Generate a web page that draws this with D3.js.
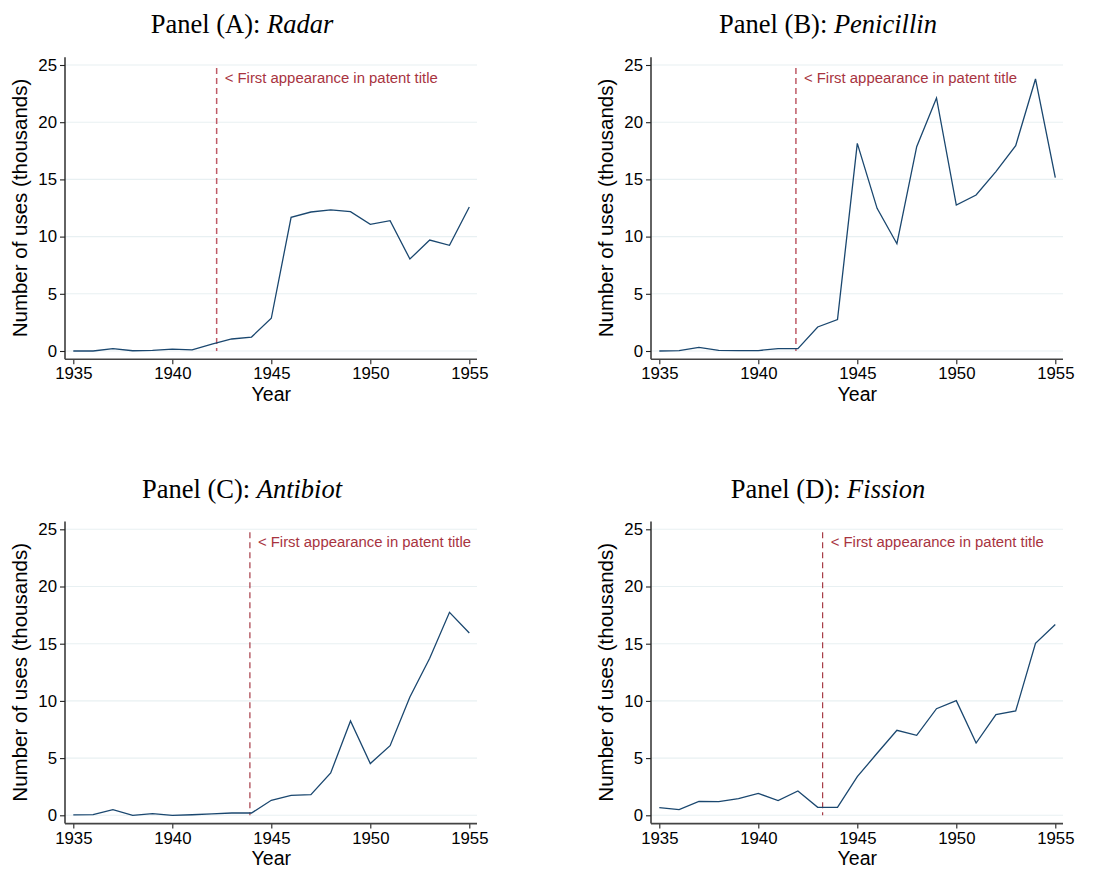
<!DOCTYPE html>
<html>
<head>
<meta charset="utf-8">
<script src="https://d3js.org/d3.v7.min.js"></script>
<style>
  body { margin: 0; background: #fff; }
  svg { display: block; }
</style>
</head>
<body>
<div id="chart"></div>
<script>
// data (thousands of uses per year)
const years = d3.range(1935, 1956);
const yTicks = [0, 5, 10, 15, 20, 25];
const xTicks = [1935, 1940, 1945, 1950, 1955];

const panelLetters = ["A", "B", "C", "D"];
const panelWords = ["Radar", "Penicillin", "Antibiot", "Fission"];
const firstAppearance = [1942.24, 1941.9, 1943.92, 1943.25];

const radar = [0, 0, 0.2, 0.02, 0.05, 0.17, 0.1, 0.6, 1.05, 1.22, 2.86,
  11.68, 12.15, 12.33, 12.18, 11.07, 11.39, 8.04, 9.7, 9.24, 12.59];
const penicillin = [0, 0.03, 0.32, 0.06, 0.04, 0.04, 0.2, 0.2, 2.1, 2.74, 18.15,
  12.47, 9.38, 17.86, 22.12, 12.76, 13.64, 15.68, 17.95, 23.78, 15.15];
const antibiot = [0.03, 0.06, 0.5, 0, 0.15, 0, 0.05, 0.12, 0.2, 0.2, 1.31,
  1.75, 1.8, 3.7, 8.25, 4.52, 6.09, 10.34, 13.72, 17.74, 15.94];
const fission = [0.67, 0.5, 1.22, 1.19, 1.46, 1.92, 1.28, 2.13, 0.7, 0.7, 3.38,
  5.42, 7.43, 6.99, 9.32, 10.02, 6.32, 8.8, 9.12, 15.03, 16.67];

const series = [radar, penicillin, antibiot, fission];

const width = 1110, height = 869;
const svg = d3.select("#chart").append("svg")
  .attr("width", width)
  .attr("height", height);

const offsets = [[0, 0], [586, 0], [0, 464.3], [586, 464.3]];
const vlineColor = ["#bf5a66", "#bf5a66", "#9e2a36", "#9e2a36"];
const vlineWidth = [1.5, 1.5, 1.1, 1.1];

const axisLeftX = 65, plotRight = 477, axisBottomY = 359.3, axisTopY = 57.3;

const x = d3.scaleLinear().domain([1935, 1955]).range([73.3, 469.3]);
const y = d3.scaleLinear().domain([0, 25]).range([351, 65]);

series.forEach((vals, i) => {
  const g = svg.append("g")
    .attr("transform", `translate(${offsets[i][0]},${offsets[i][1]})`);

  // title
  const title = g.append("text")
    .attr("x", 242)
    .attr("y", 33.3)
    .attr("text-anchor", "middle")
    .style("font-family", "'Liberation Serif', serif")
    .style("font-size", "26.5px")
    .attr("fill", "#000");
  title.append("tspan").text(`Panel (${panelLetters[i]}): `);
  title.append("tspan").style("font-style", "italic").text(panelWords[i]);

  // gridlines
  g.selectAll(".grid")
    .data(yTicks)
    .enter().append("line")
    .attr("x1", axisLeftX)
    .attr("x2", plotRight)
    .attr("y1", d => y(d))
    .attr("y2", d => y(d))
    .attr("stroke", "#e8f0f2")
    .attr("stroke-width", 1.1);

  // y axis
  const yAxis = g.append("g")
    .attr("transform", `translate(${axisLeftX},0)`)
    .call(d3.axisLeft(y).tickValues(yTicks).tickSize(5).tickPadding(3).tickSizeOuter(0));
  yAxis.select(".domain").remove();

  // x axis
  const xAxis = g.append("g")
    .attr("transform", `translate(0,${axisBottomY})`)
    .call(d3.axisBottom(x).tickValues(xTicks).tickFormat(d3.format("d"))
      .tickSize(5).tickPadding(3).tickSizeOuter(0));
  xAxis.select(".domain").remove();

  [yAxis, xAxis].forEach(a => {
    a.selectAll("text")
      .style("font-family", "'Liberation Sans', Arial, sans-serif")
      .style("font-size", "16.8px")
      .attr("fill", "#000");
    a.selectAll(".tick line").attr("stroke", "#222").attr("stroke-width", 1.1);
  });

  g.append("line")
    .attr("x1", axisLeftX).attr("x2", axisLeftX)
    .attr("y1", axisTopY).attr("y2", axisBottomY)
    .attr("stroke", "#222").attr("stroke-width", 1.4);
  g.append("line")
    .attr("x1", axisLeftX).attr("x2", plotRight)
    .attr("y1", axisBottomY).attr("y2", axisBottomY)
    .attr("stroke", "#444").attr("stroke-width", 1.6);

  // axis titles
  g.append("text")
    .attr("transform", `translate(26.5,${(y(0) + y(25)) / 2}) rotate(-90)`)
    .attr("text-anchor", "middle")
    .style("font-family", "'Liberation Sans', Arial, sans-serif")
    .style("font-size", "20.5px")
    .attr("fill", "#000")
    .text("Number of uses (thousands)");

  g.append("text")
    .attr("x", (x(1935) + x(1955)) / 2)
    .attr("y", 400.5)
    .attr("text-anchor", "middle")
    .style("font-family", "'Liberation Sans', Arial, sans-serif")
    .style("font-size", "19.5px")
    .attr("fill", "#000")
    .text("Year");

  // first appearance marker
  const fx = x(firstAppearance[i]);
  g.append("line")
    .attr("x1", fx).attr("x2", fx)
    .attr("y1", y(25) + 3).attr("y2", y(0))
    .attr("stroke", vlineColor[i])
    .attr("stroke-width", vlineWidth[i])
    .attr("stroke-dasharray", "6,4");
  g.append("text")
    .attr("x", fx + 8)
    .attr("y", 82.7)
    .style("font-family", "'Liberation Sans', Arial, sans-serif")
    .style("font-size", "14.9px")
    .attr("fill", "#a8343f")
    .text("< First appearance in patent title");

  // series line
  const line = d3.line()
    .x((d, j) => x(years[j]))
    .y(d => y(d));
  g.append("path")
    .datum(vals)
    .attr("d", line)
    .attr("fill", "none")
    .attr("stroke", "#1a476f")
    .attr("stroke-width", 1.3)
    .attr("stroke-linejoin", "miter");
});
</script>
</body>
</html>
